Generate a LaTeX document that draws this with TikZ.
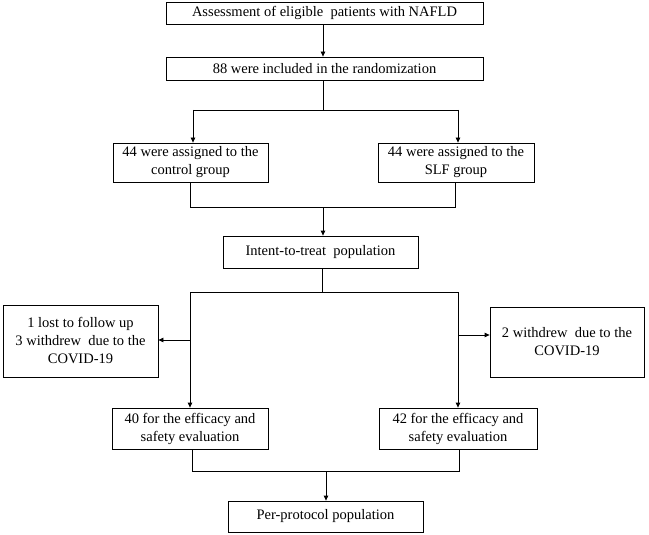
\documentclass[tikz,border=0pt]{standalone}
\usepackage{fontspec}
\setmainfont{Liberation Serif}
\usetikzlibrary{arrows.meta}
\begin{document}
\begin{tikzpicture}[x=1pt,y=-1pt,
  box/.style={draw,line width=0.8pt,inner sep=0pt,align=center,font=\fontsize{14.5}{18}\selectfont},
  conn/.style={line width=0.8pt},
  arr/.style={line width=0.8pt,-{Triangle[length=5pt,width=4.5pt]}}]
\useasboundingbox (0,0) rectangle (649,535);
\node[box,minimum width=317pt,minimum height=22pt] (b1) at (324.5,13) {Assessment of eligible \ patients with NAFLD};
\node[box,minimum width=317pt,minimum height=23pt] (b2) at (324.5,68.5) {88 were included in the randomization};
\node[box,minimum width=155pt,minimum height=39pt] (b3) at (190.5,162.5) {44 were assigned to the\\control group};
\node[box,minimum width=156pt,minimum height=39pt] (b4) at (456,162.5) {44 were assigned to the\\SLF group};
\node[box,minimum width=195pt,minimum height=32pt] (b5) at (320.5,252) {Intent-to-treat \ population};
\node[box,minimum width=155pt,minimum height=72pt] (bl) at (80.5,341) {1 lost to follow up\\3 withdrew \ due to the\\COVID-19};
\node[box,minimum width=154pt,minimum height=70pt] (br) at (567,342) {2 withdrew \ due to the\\COVID-19};
\node[box,minimum width=156pt,minimum height=41pt] (b6) at (190,428.5) {40 for the efficacy and\\safety evaluation};
\node[box,minimum width=158pt,minimum height=41pt] (b7) at (458,428.5) {42 for the efficacy and\\safety evaluation};
\node[box,minimum width=195pt,minimum height=31pt] (b8) at (325.5,516.5) {Per-protocol population};
% junction coordinates
\coordinate (j1) at (323,110);
\coordinate (j1l) at (193,110);
\coordinate (j1r) at (458,110);
\coordinate (j2) at (323,207);
\coordinate (j2l) at (190,207);
\coordinate (j2r) at (455,207);
\coordinate (j3) at (322,292);
\coordinate (j3l) at (190,292);
\coordinate (j3r) at (458,292);
\coordinate (sl) at (190,340);
\coordinate (sr) at (458,335);
\coordinate (j4) at (326,471);
\coordinate (j4l) at (192,471);
\coordinate (j4r) at (459,471);
\coordinate (t1) at (323,0);
% connectors
\draw[arr] (t1 |- b1.south) -- (t1 |- b2.north);
\draw[conn] (t1 |- b2.south) -- (j1);
\draw[conn] (j1l) -- (j1r);
\draw[arr] (j1l) -- (j1l |- b3.north);
\draw[arr] (j1r) -- (j1r |- b4.north);
\draw[conn] (j2l |- b3.south) -- (j2l) -- (j2r) -- (j2r |- b4.south);
\draw[arr] (j2) -- (j2 |- b5.north);
\draw[conn] (j3 |- b5.south) -- (j3);
\draw[conn] (j3l) -- (j3r);
\draw[arr] (j3l) -- (j3l |- b6.north);
\draw[arr] (j3r) -- (j3r |- b7.north);
\draw[arr] (sl) -- (sl -| bl.east);
\draw[arr] (sr) -- (sr -| br.west);
\draw[conn] (j4l |- b6.south) -- (j4l) -- (j4r) -- (j4r |- b7.south);
\draw[arr] (j4) -- (j4 |- b8.north);
\end{tikzpicture}
\end{document}
